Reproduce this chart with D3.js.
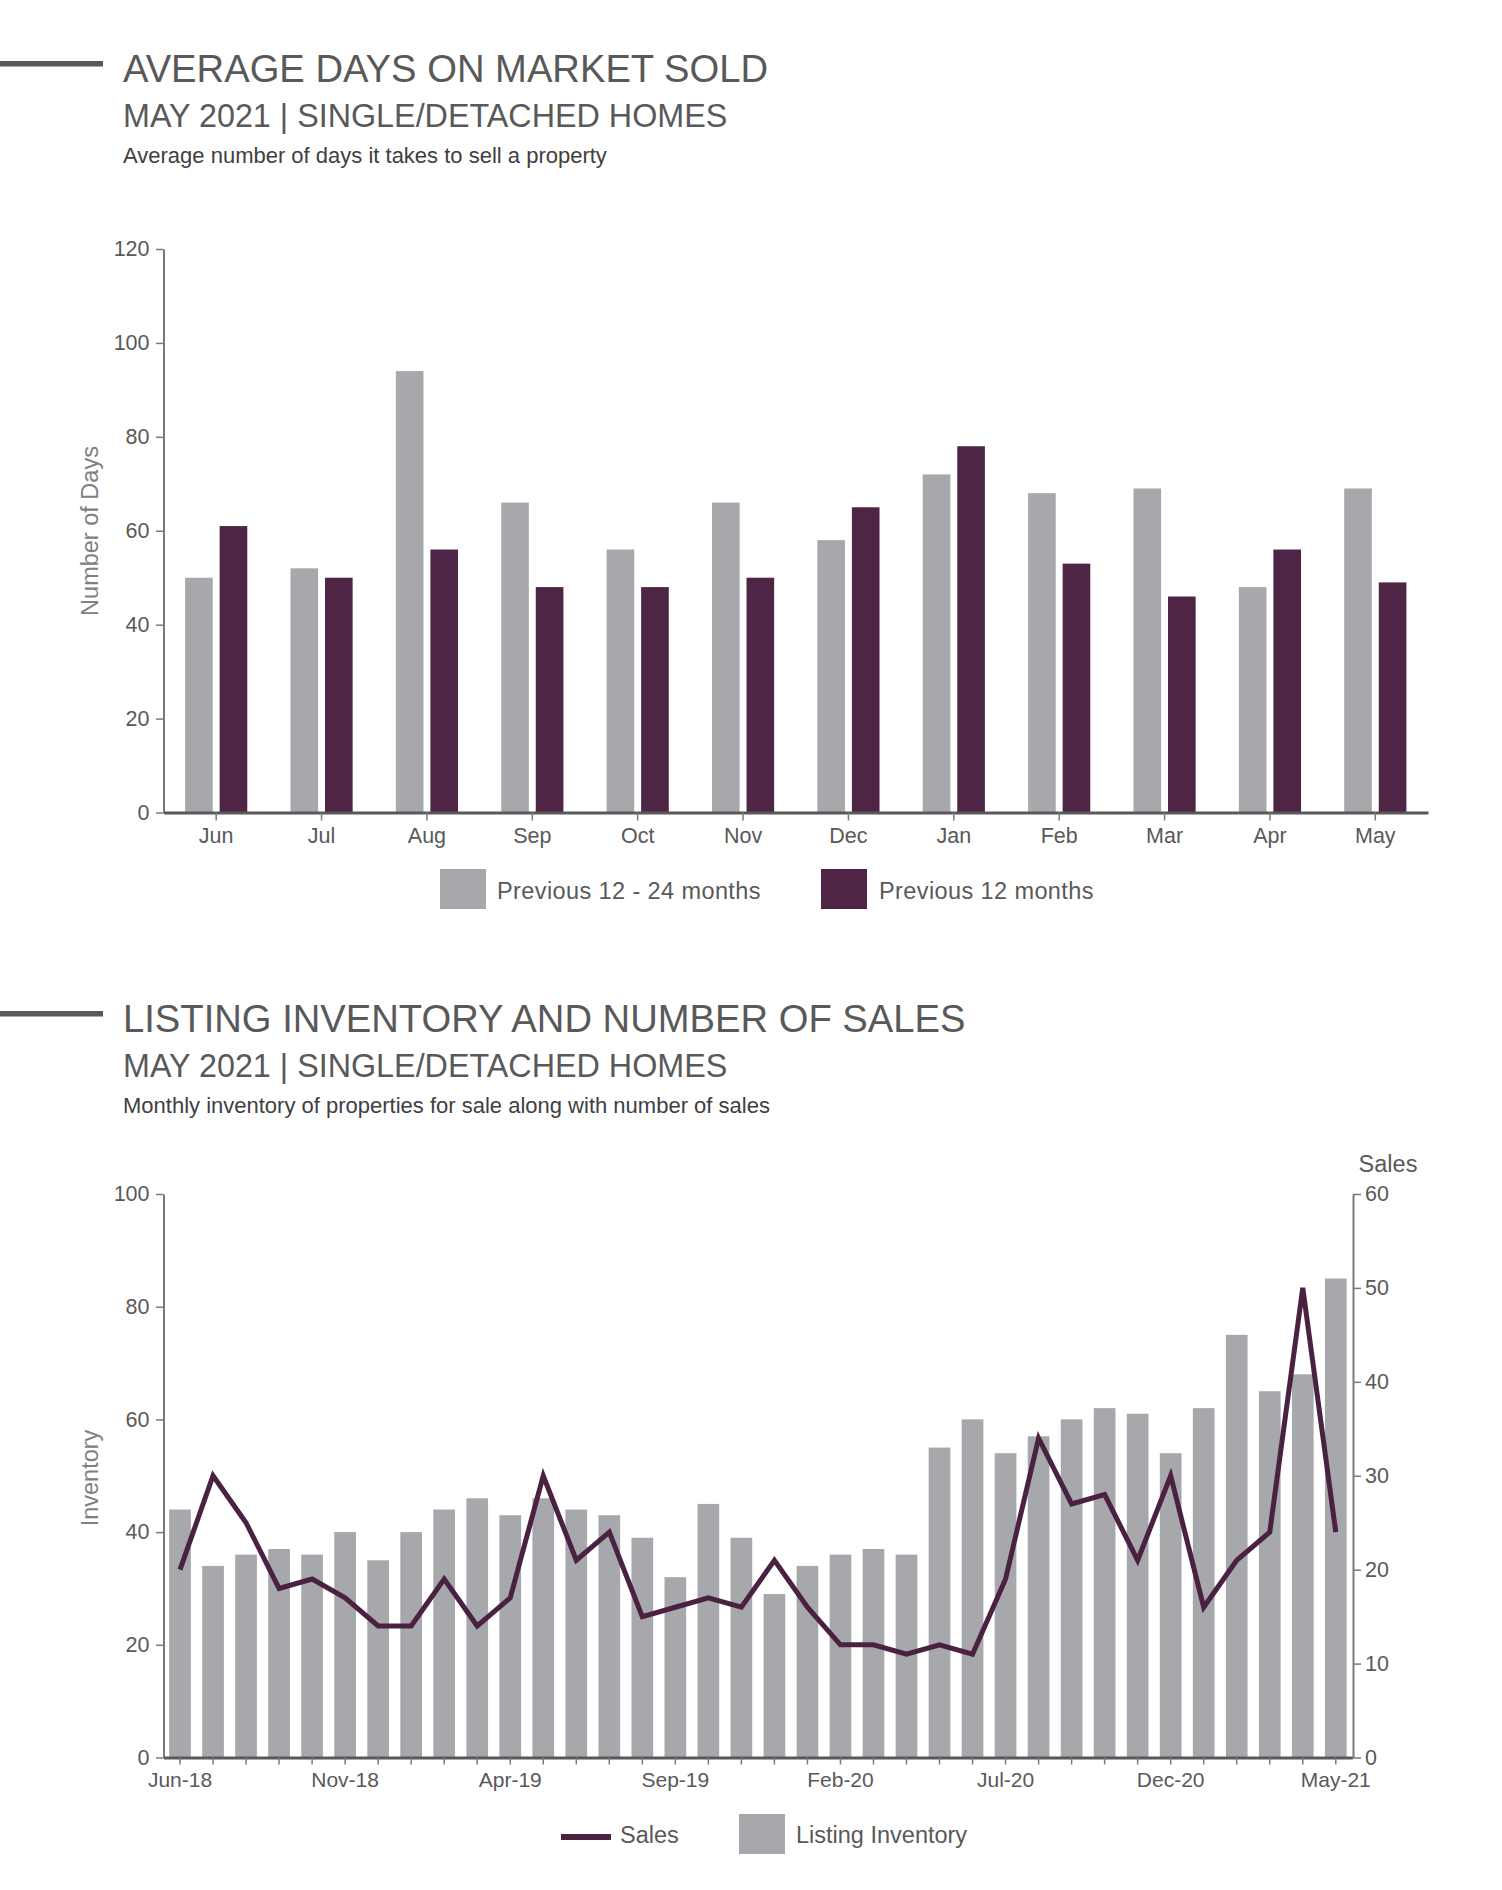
<!DOCTYPE html>
<html>
<head>
<meta charset="utf-8">
<script src="https://cdn.jsdelivr.net/npm/d3@7"></script>
<style>
  body { margin: 0; background: #fff; }
  svg text { font-family: 'Liberation Sans', Arial, sans-serif; }
</style>
</head>
<body>
<svg id="page"></svg>
<script>
// average days on market
const months = ['Jun','Jul','Aug','Sep','Oct','Nov','Dec','Jan','Feb','Mar','Apr','May'];
const prev12to24 = [50,52,94,66,56,66,58,72,68,69,48,69];
const prev12 = [61,50,56,48,48,50,65,78,53,46,56,49];
const dayTicks = [0,20,40,60,80,100,120];

// listing inventory and sales
const periods = ['Jun-18','Jul-18','Aug-18','Sep-18','Oct-18','Nov-18','Dec-18',
  'Jan-19','Feb-19','Mar-19','Apr-19','May-19','Jun-19','Jul-19','Aug-19','Sep-19','Oct-19','Nov-19','Dec-19',
  'Jan-20','Feb-20','Mar-20','Apr-20','May-20','Jun-20','Jul-20','Aug-20','Sep-20','Oct-20','Nov-20','Dec-20',
  'Jan-21','Feb-21','Mar-21','Apr-21','May-21'];
const inventory = [44,34,36,37,36,40,35,40,44,46,43,46,44,43,39,32,45,39,29,34,36,37,36,55,60,54,57,60,62,61,54,62,75,65,68,85];
const sales = [20,30,25,18,19,17,14,14,19,14,17,30,21,24,15,16,17,16,21,16,12,12,11,12,11,19,34,27,28,21,30,16,21,24,50,24];
const periodTicks = ['Jun-18','Nov-18','Apr-19','Sep-19','Feb-20','Jul-20','Dec-20','May-21'];
const inventoryTicks = [0,20,40,60,80,100];
const salesTicks = [0,10,20,30,40,50,60];

const GREY = '#a7a8ab', PLUM = '#4e2544', INK = '#595959';

const svg = d3.select('#page')
    .attr('width',1502)
    .attr('height',1890);

// section header: grey dash, title, subtitle, note
const header = (y0, title, sub, note) => {
    svg.append('rect')
        .attr('x',0).attr('y',y0-21)
        .attr('width',103).attr('height',5.5)
        .attr('fill',INK);
    svg.append('text').attr('x',123).attr('y',y0)
        .attr('font-size',38.2).attr('fill',INK).text(title);
    svg.append('text').attr('x',123).attr('y',y0+45)
        .attr('font-size',32.3).attr('fill',INK).text(sub);
    svg.append('text').attr('x',123).attr('y',y0+81)
        .attr('font-size',22).attr('fill','#404040').text(note);
};

const styleAxis = (g, size, domainW, domainC) => {
    g.selectAll('text').attr('font-size',size).attr('fill',INK).style('font-family',"'Liberation Sans', Arial, sans-serif");
    g.selectAll('.tick line').attr('stroke','#7a7a7a').attr('stroke-width',1.5);
    g.select('.domain').attr('stroke',domainC).attr('stroke-width',domainW);
};

const axisTitle = (x, y, txt) => {
    svg.append('text')
        .attr('transform',`translate(${x},${y}) rotate(-90)`)
        .attr('text-anchor','middle')
        .attr('font-size',23.5).attr('fill','#808080')
        .text(txt);
};

// ---------- chart 1 ----------
header(82,'AVERAGE DAYS ON MARKET SOLD','MAY 2021 | SINGLE/DETACHED HOMES','Average number of days it takes to sell a property');

const x0 = d3.scaleBand().domain(months).range([163.5,1428]).paddingInner(0.41).paddingOuter(0.205);
const x1 = d3.scaleBand().domain(['prev12to24','prev12']).range([0,x0.bandwidth()]).paddingInner(0.2);
const y1 = d3.scaleLinear().domain([0,120]).range([812.5,249]);
const color1 = d3.scaleOrdinal().domain(['prev12to24','prev12']).range([GREY,PLUM]);

const rows = months.map((m,i)=>({m, prev12to24:prev12to24[i], prev12:prev12[i]}));
svg.append('g').selectAll('g')
    .data(rows)
    .join('g')
        .attr('transform',d=>`translate(${x0(d.m)},0)`)
    .selectAll('rect')
    .data(d=>['prev12to24','prev12'].map(k=>({k, v:d[k]})))
    .join('rect')
        .attr('x',d=>x1(d.k))
        .attr('y',d=>y1(d.v))
        .attr('width',x1.bandwidth())
        .attr('height',d=>y1(0)-y1(d.v))
        .attr('fill',d=>color1(d.k));

const yAx1 = svg.append('g')
    .attr('transform','translate(163.5,0)')
    .call(d3.axisLeft(y1).tickValues(dayTicks).tickSize(7.5).tickPadding(6.5).tickSizeOuter(0));
styleAxis(yAx1,21.5,2,'#7a7a7a');

const xAx1 = svg.append('g')
    .attr('transform','translate(0,812.5)')
    .call(d3.axisBottom(x0).tickSize(8).tickPadding(7).tickSizeOuter(0));
styleAxis(xAx1,21.5,3,INK);

axisTitle(98,531,'Number of Days');

// legend 1
const leg1 = [['Previous 12 - 24 months',GREY,440,497],['Previous 12 months',PLUM,821,879]];
leg1.forEach(([t,c,rx,tx])=>{
    svg.append('rect').attr('x',rx).attr('y',869).attr('width',46).attr('height',40).attr('fill',c);
    svg.append('text').attr('x',tx).attr('y',899).attr('font-size',23.5).attr('fill',INK)
        .attr('letter-spacing',0.4).text(t);
});

// ---------- chart 2 ----------
header(1032,'LISTING INVENTORY AND NUMBER OF SALES','MAY 2021 | SINGLE/DETACHED HOMES','Monthly inventory of properties for sale along with number of sales');

const x2 = d3.scaleBand().domain(periods).range([163.5,1352.3]).paddingInner(0.343).paddingOuter(0.1715);
const yInv = d3.scaleLinear().domain([0,100]).range([1757.5,1194]);
const ySales = d3.scaleLinear().domain([0,60]).range([1757.5,1194]);

svg.append('g').selectAll('rect')
    .data(periods.map((p,i)=>({p, v:inventory[i]})))
    .join('rect')
        .attr('x',d=>x2(d.p))
        .attr('y',d=>yInv(d.v))
        .attr('width',x2.bandwidth())
        .attr('height',d=>yInv(0)-yInv(d.v))
        .attr('fill',GREY);

const salesLine = d3.line()
    .x((d,i)=>x2(periods[i])+x2.bandwidth()/2)
    .y(d=>ySales(d));
svg.append('path')
    .datum(sales)
    .attr('d',salesLine)
    .attr('fill','none')
    .attr('stroke','#4b2142')
    .attr('stroke-width',5);

const yAx2 = svg.append('g')
    .attr('transform','translate(163.5,0)')
    .call(d3.axisLeft(yInv).tickValues(inventoryTicks).tickSize(7.5).tickPadding(6.5).tickSizeOuter(0));
styleAxis(yAx2,21.5,2,'#7a7a7a');

const yAx3 = svg.append('g')
    .attr('transform','translate(1353,0)')
    .call(d3.axisRight(ySales).tickValues(salesTicks).tickSize(8).tickPadding(4).tickSizeOuter(0));
styleAxis(yAx3,21.5,2,'#7a7a7a');

const xAx2 = svg.append('g')
    .attr('transform','translate(0,1757.5)')
    .call(d3.axisBottom(x2).tickSize(7).tickPadding(7.5).tickSizeOuter(0)
        .tickFormat(d=>periodTicks.includes(d) ? d : ''));
styleAxis(xAx2,21,3,INK);

axisTitle(98,1478,'Inventory');
svg.append('text').attr('x',1388).attr('y',1172).attr('text-anchor','middle')
    .attr('font-size',23.5).attr('fill',INK).text('Sales');

// legend 2
svg.append('line').attr('x1',561).attr('x2',611).attr('y1',1837).attr('y2',1837)
    .attr('stroke','#4b2142').attr('stroke-width',6);
svg.append('text').attr('x',620).attr('y',1843).attr('font-size',23.5).attr('fill',INK).text('Sales');
svg.append('rect').attr('x',739).attr('y',1814).attr('width',46).attr('height',40).attr('fill',GREY);
svg.append('text').attr('x',796).attr('y',1843).attr('font-size',23.5).attr('fill',INK).text('Listing Inventory');
</script>
</body>
</html>
